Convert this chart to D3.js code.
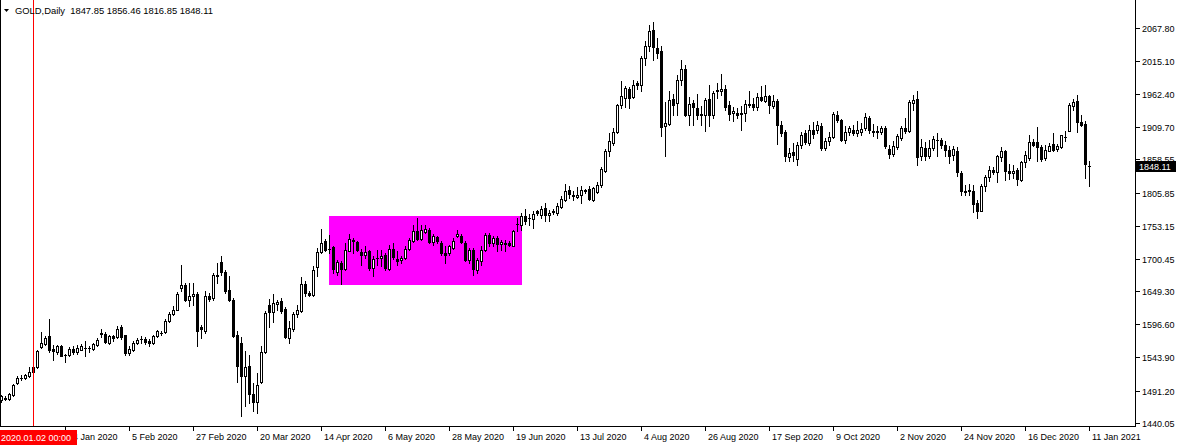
<!DOCTYPE html>
<html><head><meta charset="utf-8">
<script src="https://cdn.jsdelivr.net/npm/d3@7"></script>
<style>
html,body{margin:0;padding:0;background:#fff;}
svg{display:block;}
text{font-family:"Liberation Sans",Arial,sans-serif;}
</style></head>
<body><svg id="chart" width="1180" height="445"></svg>
<script>
// ---------- data ----------
const symbolName = "GOLD,Daily";
const firstDate = "2019-12-19";
const closedDays = ["2019-12-25","2020-01-01","2020-04-10","2020-12-25","2021-01-01"];

const open = [
1475.5,1478.8,1477.6,1484.5,1503.0,1511.2,1510.4,1513.6,1520.0,1528.5,
1560.2,1564.5,1578.3,1557.6,1551.8,1561.8,1547.0,1547.0,1557.6,1552.8,
1556.0,1559.5,1558.9,1557.6,1562.9,1582.5,1580.9,1566.6,1577.2,1576.2,
1592.0,1578.8,1550.7,1556.0,1566.6,1572.8,1573.0,1569.2,1566.6,1577.2,
1582.3,1583.6,1602.0,1613.2,1619.6,1653.5,1658.8,1634.4,1640.8,1645.0,
1592.0,1585.2,1640.8,1638.2,1673.6,1695.4,1680.0,1650.3,1635.5,1578.8,
1566.0,1514.0,1529.5,1486.0,1472.3,1504.0,1552.3,1627.6,1615.4,1628.6,
1634.0,1621.2,1574.6,1588.9,1612.7,1618.0,1660.4,1646.6,1643.0,1687.3,
1710.8,1729.2,1716.7,1719.1,1679.4,1693.7,1684.7,1713.3,1730.8,1727.6,
1711.2,1706.4,1712.8,1685.2,1701.5,1701.7,1707.0,1684.2,1716.5,1700.1,
1698.2,1701.7,1716.5,1728.1,1745.1,1732.4,1743.2,1746.7,1726.6,1735.0,
1725.5,1709.6,1709.6,1717.6,1736.7,1737.2,1725.5,1698.0,1713.9,1682.0,
1696.4,1714.0,1738.2,1725.5,1733.5,1723.4,1726.0,1726.0,1721.3,1756.0,
1753.6,1768.4,1765.4,1763.6,1775.8,1769.5,1782.0,1770.0,1775.5,1772.7,
1782.7,1794.4,1810.3,1801.5,1798.0,1802.3,1809.3,1811.3,1793.3,1806.5,
1817.2,1839.4,1871.2,1885.0,1902.0,1944.3,1956.0,1970.8,1957.0,1979.9,
1976.0,2019.6,2038.0,2064.6,2035.5,2030.2,1911.0,1914.7,1955.0,1948.0,
1984.6,2002.6,1929.5,1948.0,1940.0,1930.3,1929.5,1955.0,1928.5,1969.0,
1967.6,1970.8,1944.3,1931.6,1932.0,1932.7,1931.6,1947.0,1947.0,1941.0,
1958.0,1951.7,1959.7,1942.8,1951.7,1913.6,1902.0,1863.0,1870.0,1859.5,
1881.9,1900.4,1884.5,1905.7,1904.6,1912.0,1876.6,1887.2,1894.0,1929.0,
1920.5,1889.8,1901.5,1905.7,1900.4,1901.5,1907.8,1924.2,1904.0,1904.0,
1901.5,1908.4,1875.5,1867.6,1878.0,1892.5,1908.4,1903.0,1948.1,1954.4,
1864.2,1876.5,1864.4,1876.5,1890.0,1889.8,1881.9,1873.9,1866.0,1872.3,
1836.8,1808.7,1807.6,1808.7,1789.0,1775.8,1816.0,1829.9,1842.0,1838.3,
1861.7,1872.3,1840.5,1836.8,1842.0,1826.2,1854.2,1860.6,1886.0,1886.0,
1878.6,1860.6,1872.3,1882.9,1875.4,1877.6,1894.3,1903.0,1942.8,1950.7,
1917.8,1914.7,1847.85];

const high = [
1484.5,1481.8,1487.0,1502.0,1513.6,1515.7,1517.8,1528.5,1530.0,1555.0,
1584.1,1577.2,1605.3,1563.4,1563.9,1563.4,1549.7,1560.2,1561.3,1562.9,
1565.0,1569.2,1561.3,1566.6,1574.6,1589.4,1583.6,1579.9,1579.9,1593.1,
1596.0,1580.0,1562.4,1569.2,1574.6,1577.2,1576.1,1573.0,1579.9,1587.8,
1585.2,1604.8,1615.4,1624.9,1647.2,1691.2,1662.0,1662.0,1662.0,1647.2,
1595.0,1648.8,1646.1,1677.9,1693.8,1704.4,1682.1,1672.6,1638.2,1585.0,
1576.5,1553.4,1548.0,1503.0,1519.0,1562.4,1617.0,1636.6,1645.0,1635.5,
1638.2,1623.8,1601.0,1615.4,1627.6,1671.0,1665.7,1648.8,1688.5,1717.6,
1747.9,1731.9,1739.0,1721.0,1699.0,1697.0,1725.5,1740.4,1733.5,1729.2,
1716.0,1720.2,1714.9,1704.3,1714.9,1714.9,1709.6,1722.9,1725.5,1712.3,
1704.3,1720.2,1733.5,1754.7,1765.3,1754.7,1754.7,1749.4,1740.4,1737.2,
1728.2,1720.2,1722.9,1733.5,1746.7,1740.4,1728.2,1717.6,1717.6,1701.7,
1720.2,1741.4,1741.4,1737.2,1736.1,1730.8,1730.8,1728.2,1746.7,1765.3,
1774.0,1780.0,1771.6,1775.8,1778.0,1783.8,1789.0,1778.5,1779.0,1789.0,
1799.6,1819.8,1815.5,1807.6,1814.0,1815.5,1812.0,1815.5,1815.0,1821.9,
1846.0,1875.0,1900.3,1908.3,1946.0,1983.6,1974.6,1973.0,1985.2,1983.0,
2022.3,2046.1,2072.6,2076.8,2051.4,2038.0,1949.6,1967.7,1962.4,1993.1,
2017.0,2009.0,1957.1,1953.4,1962.4,1942.8,1956.0,1977.2,1966.6,1979.9,
1994.2,1976.2,1950.7,1941.2,1940.1,1942.8,1953.4,1967.7,1956.0,1964.0,
1974.6,1976.2,1961.3,1961.3,1955.0,1919.9,1905.7,1876.5,1884.5,1886.0,
1901.5,1904.6,1913.6,1917.4,1919.0,1916.3,1892.5,1901.5,1933.3,1934.8,
1922.7,1912.0,1912.0,1913.6,1919.0,1916.3,1932.2,1926.9,1915.2,1911.0,
1911.0,1911.0,1881.9,1887.2,1899.3,1911.0,1924.2,1953.4,1961.4,1966.6,
1890.9,1885.6,1889.8,1895.1,1900.4,1892.5,1887.2,1879.2,1880.0,1877.6,
1840.5,1818.2,1819.3,1818.2,1794.4,1819.3,1834.1,1847.4,1845.8,1865.9,
1877.6,1873.9,1851.0,1848.9,1844.7,1856.4,1872.3,1897.7,1891.3,1909.4,
1880.7,1881.8,1884.5,1900.4,1882.9,1897.7,1903.0,1948.1,1954.9,1961.3,
1929.5,1918.9,1856.46];

const low = [
1472.3,1475.5,1476.5,1483.0,1502.0,1508.3,1509.4,1512.5,1518.0,1527.0,
1558.6,1563.5,1551.8,1540.1,1549.7,1545.4,1535.9,1545.4,1549.7,1549.7,
1554.9,1545.4,1551.8,1554.9,1561.3,1576.2,1566.6,1565.0,1569.2,1574.6,
1573.0,1548.0,1547.0,1553.4,1565.5,1566.6,1565.5,1562.4,1565.5,1576.1,
1579.9,1582.5,1600.5,1611.1,1618.6,1648.8,1632.8,1625.0,1627.6,1562.4,
1574.6,1582.5,1632.8,1635.5,1662.0,1675.3,1646.1,1632.8,1576.1,1505.0,
1450.0,1465.9,1471.0,1458.0,1455.0,1503.0,1550.7,1592.0,1599.5,1619.6,
1614.3,1574.6,1566.6,1585.2,1608.0,1615.4,1640.8,1640.8,1640.8,1672.6,
1709.6,1712.3,1709.6,1677.8,1675.2,1661.0,1683.1,1712.3,1709.6,1712.3,
1691.0,1701.7,1683.1,1672.5,1691.0,1688.4,1683.1,1683.1,1700.1,1691.0,
1693.7,1700.1,1714.9,1726.6,1730.8,1729.7,1741.4,1725.5,1722.9,1725.5,
1707.0,1693.7,1707.0,1716.0,1735.0,1725.5,1696.4,1693.7,1675.2,1677.8,
1691.0,1712.3,1720.2,1720.2,1712.3,1714.9,1712.3,1720.2,1720.2,1744.0,
1746.7,1755.7,1753.5,1749.3,1770.0,1765.2,1759.9,1759.9,1772.0,1770.5,
1781.1,1791.7,1797.0,1794.4,1797.0,1789.0,1805.0,1794.4,1792.0,1805.0,
1815.0,1838.0,1863.3,1881.8,1900.0,1940.1,1941.2,1940.1,1956.0,1970.0,
1966.6,2009.0,2030.2,2017.0,2019.6,1895.0,1863.3,1912.5,1929.5,1929.5,
1977.2,1926.9,1912.5,1912.5,1923.1,1913.6,1903.0,1911.0,1924.2,1956.0,
1961.3,1937.5,1921.6,1918.9,1924.2,1905.7,1920.0,1941.2,1937.5,1937.5,
1950.7,1949.6,1932.2,1940.1,1882.9,1895.0,1855.3,1855.3,1855.3,1850.0,
1876.6,1883.4,1881.9,1892.5,1900.4,1872.8,1872.8,1881.9,1892.5,1917.4,
1887.2,1884.5,1897.8,1897.8,1895.1,1897.8,1905.7,1900.4,1895.1,1892.5,
1899.3,1876.6,1860.7,1863.3,1875.0,1889.8,1900.4,1901.5,1937.5,1850.0,
1858.0,1858.0,1860.7,1873.9,1864.4,1876.6,1864.4,1852.7,1858.0,1831.4,
1801.2,1802.3,1802.3,1774.8,1765.2,1775.8,1807.6,1823.5,1835.2,1822.4,
1856.4,1826.2,1827.8,1828.8,1818.2,1824.6,1845.8,1857.9,1879.2,1855.3,
1856.4,1857.9,1871.2,1871.2,1871.2,1876.5,1887.1,1903.0,1937.5,1902.0,
1911.0,1828.8,1816.85];

const close = [
1481.8,1478.4,1485.0,1500.4,1511.5,1511.8,1515.7,1521.0,1528.0,1553.4,
1566.6,1575.0,1556.0,1553.4,1562.4,1546.5,1548.0,1557.6,1551.8,1558.0,
1561.3,1559.0,1558.5,1565.0,1571.9,1580.9,1568.2,1578.3,1574.0,1589.4,
1576.0,1550.7,1557.6,1566.6,1570.8,1573.2,1568.7,1566.6,1577.2,1585.2,
1582.7,1602.0,1613.2,1619.6,1644.5,1658.8,1634.4,1641.9,1645.0,1585.2,
1589.4,1641.9,1636.6,1674.2,1675.3,1679.0,1648.8,1634.4,1577.2,1529.5,
1514.0,1529.0,1485.5,1472.3,1500.4,1552.3,1614.3,1615.4,1630.2,1632.3,
1617.0,1575.6,1590.5,1612.7,1619.6,1660.4,1646.1,1643.5,1683.2,1711.3,
1725.6,1713.9,1716.3,1684.2,1695.4,1684.2,1714.4,1732.0,1728.2,1713.9,
1706.4,1711.8,1685.8,1700.1,1701.9,1705.4,1685.8,1716.0,1702.7,1696.4,
1702.2,1716.5,1730.3,1744.6,1732.4,1745.6,1747.9,1726.6,1737.2,1728.2,
1709.6,1707.0,1720.2,1729.2,1740.4,1726.6,1698.0,1714.9,1684.7,1698.8,
1714.9,1738.2,1725.5,1733.0,1724.5,1727.6,1723.4,1722.3,1744.6,1755.5,
1769.0,1760.0,1764.8,1772.0,1772.7,1780.0,1770.0,1773.0,1776.0,1784.3,
1796.0,1807.6,1803.4,1801.0,1801.8,1809.7,1808.7,1796.0,1813.0,1818.2,
1843.6,1872.3,1888.0,1902.0,1944.3,1959.7,1971.9,1956.0,1977.2,1976.0,
2019.6,2038.0,2063.0,2036.5,2027.5,1909.4,1916.8,1953.4,1944.3,1985.2,
2002.6,1929.5,1946.5,1941.0,1928.5,1929.5,1953.4,1929.5,1964.0,1966.6,
1970.8,1941.0,1930.6,1935.9,1929.5,1930.6,1946.5,1944.3,1941.0,1957.0,
1953.4,1959.0,1944.3,1951.7,1912.5,1900.4,1864.0,1868.5,1865.0,1880.7,
1897.8,1885.6,1905.7,1898.8,1913.6,1876.6,1888.2,1894.0,1931.0,1921.6,
1889.8,1901.5,1908.4,1900.4,1905.7,1907.3,1925.8,1904.6,1901.5,1901.5,
1908.4,1879.2,1867.6,1880.3,1896.0,1908.4,1903.0,1950.2,1953.4,1862.2,
1878.1,1864.4,1876.5,1890.9,1889.6,1880.8,1872.8,1864.4,1874.9,1838.3,
1807.6,1806.0,1810.2,1787.5,1775.8,1817.0,1830.4,1842.0,1838.3,1863.2,
1871.2,1839.4,1836.8,1840.5,1827.2,1854.2,1865.9,1886.0,1881.8,1877.6,
1858.5,1873.9,1880.2,1873.9,1879.0,1896.7,1893.8,1944.3,1949.6,1917.8,
1913.6,1851.0,1848.11];

const timeTickLabels = ["14 Jan 2020","5 Feb 2020","27 Feb 2020","20 Mar 2020","14 Apr 2020",
  "6 May 2020","28 May 2020","19 Jun 2020","13 Jul 2020","4 Aug 2020","26 Aug 2020",
  "17 Sep 2020","9 Oct 2020","2 Nov 2020","24 Nov 2020","16 Dec 2020","11 Jan 2021"];
const priceTicks = [2067.80,2015.10,1962.40,1909.70,1858.55,1805.85,1753.15,1700.45,
  1649.30,1596.60,1543.90,1491.20,1440.05];
const markerDate = ["2020-01-02"];
const markerLabel = ["2020.01.02 00:00"];
const zoneDates = ["2020-04-16","2020-06-23"];
const zonePrices = [1769.0, 1660.0];

// ---------- build ----------
const n = open.length;
const dates = [];
{
  let t = Date.parse(firstDate + "T00:00:00Z");
  while (dates.length < n) {
    const d = new Date(t);
    const key = d.toISOString().slice(0,10);
    const wd = d.getUTCDay();
    if (wd !== 0 && wd !== 6 && !closedDays.includes(key)) dates.push(key);
    t += 86400000;
  }
}
const bars = dates.map((d,i)=>({date:d,o:open[i],h:high[i],l:low[i],c:close[i]}));

const W = 1180, H = 445, plotR = 1135, plotB = 426;
const x = d3.scalePoint().domain(dates).range([1, 1089]);
const y = d3.scaleLinear().domain([1440.05, 2067.80]).range([422.7, 27.7]);
const fmtLabel = d3.utcFormat("%-d %b %Y");

const svg = d3.select("#chart").attr("shape-rendering","crispEdges");
svg.append("rect").attr("width",W).attr("height",H).attr("fill","#fff");

const plot = svg.append("g");
plot.append("clipPath").attr("id","clip").append("rect")
  .attr("x",0).attr("y",0).attr("width",plotR).attr("height",plotB);
const pg = plot.append("g").attr("clip-path","url(#clip)");

// zone rectangle (background)
const zx0 = Math.round(x(zoneDates[0])), zx1 = Math.round(x(zoneDates[1]));
const zy0 = Math.round(y(zonePrices[0])), zy1 = Math.round(y(zonePrices[1]));
pg.append("rect").attr("x",zx0).attr("y",zy0).attr("width",zx1-zx0+1).attr("height",zy1-zy0+1)
  .attr("fill","#ff00ff");

// candles
const cg = pg.append("g");
bars.forEach(b=>{
  const cx = Math.round(x(b.date));
  const yh = Math.round(y(b.h)), yl = Math.round(y(b.l));
  const yo = Math.round(y(b.o)), yc = Math.round(y(b.c));
  cg.append("rect").attr("x",cx).attr("y",yh).attr("width",1).attr("height",Math.max(1,yl-yh+1)).attr("fill","#000");
  const top = Math.min(yo,yc), bot = Math.max(yo,yc);
  cg.append("rect").attr("x",cx-1).attr("y",top).attr("width",3).attr("height",bot-top+1).attr("fill","#000");
  if (b.c > b.o && bot-top >= 2) {
    cg.append("rect").attr("x",cx).attr("y",top+1).attr("width",1).attr("height",bot-top-1).attr("fill","#fff");
  }
});

// red vertical marker line
const mx = Math.round(x(markerDate[0]));
pg.append("rect").attr("x",mx).attr("y",0).attr("width",1).attr("height",plotB).attr("fill","#ff0000");

// frame
svg.append("rect").attr("x",0).attr("y",0).attr("width",1).attr("height",plotB+1).attr("fill","#000");
svg.append("rect").attr("x",plotR).attr("y",0).attr("width",1).attr("height",plotB+1).attr("fill","#000");
svg.append("rect").attr("x",0).attr("y",plotB).attr("width",plotR+1).attr("height",1).attr("fill","#000");

// price axis
const pa = svg.append("g");
priceTicks.forEach(p=>{
  const ty = Math.round(y(p));
  pa.append("rect").attr("x",plotR+1).attr("y",ty).attr("width",4).attr("height",1).attr("fill","#000");
  pa.append("text").attr("x",plotR+7).attr("y",ty+0.5).attr("dy","0.35em")
    .attr("font-size",9).attr("fill","#000").text(p.toFixed(2));
});
// current price label
const last = bars[n-1];
const ly = Math.round(y(last.c));
pa.append("rect").attr("x",plotR+1).attr("y",ly-5).attr("width",40).attr("height",11).attr("fill","#000");
pa.append("text").attr("x",plotR+4).attr("y",ly+0.5).attr("dy","0.35em")
  .attr("font-size",9).attr("fill","#fff").text(last.c.toFixed(2));

// time axis
const ta = svg.append("g");
bars.forEach(b=>{
  const lab = fmtLabel(new Date(b.date+"T00:00:00Z"));
  if (timeTickLabels.includes(lab)) {
    const tx = Math.round(x(b.date));
    ta.append("rect").attr("x",tx).attr("y",plotB+1).attr("width",1).attr("height",4).attr("fill","#000");
    ta.append("text").attr("x",tx+3).attr("y",440).attr("font-size",9).attr("fill","#000").text(lab);
  }
});
// marker time label (drawn over the first time label, as in the terminal)
ta.append("rect").attr("x",0).attr("y",430).attr("width",77).attr("height",15).attr("fill","#ff0000");
ta.append("text").attr("x",1).attr("y",441).attr("font-size",9).attr("fill","#fff").text(markerLabel[0]);

// header
const hg = svg.append("g");
hg.append("path").attr("d","M4,9 L9,9 L6.5,12 Z").attr("fill","#000").attr("shape-rendering","auto");
hg.append("text").attr("x",15).attr("y",14).attr("font-size",9.4).attr("fill","#000")
  .attr("xml:space","preserve")
  .text(symbolName + "  " + [last.o,last.h,last.l,last.c].map(v=>v.toFixed(2)).join(" "));
</script>
</body></html>
